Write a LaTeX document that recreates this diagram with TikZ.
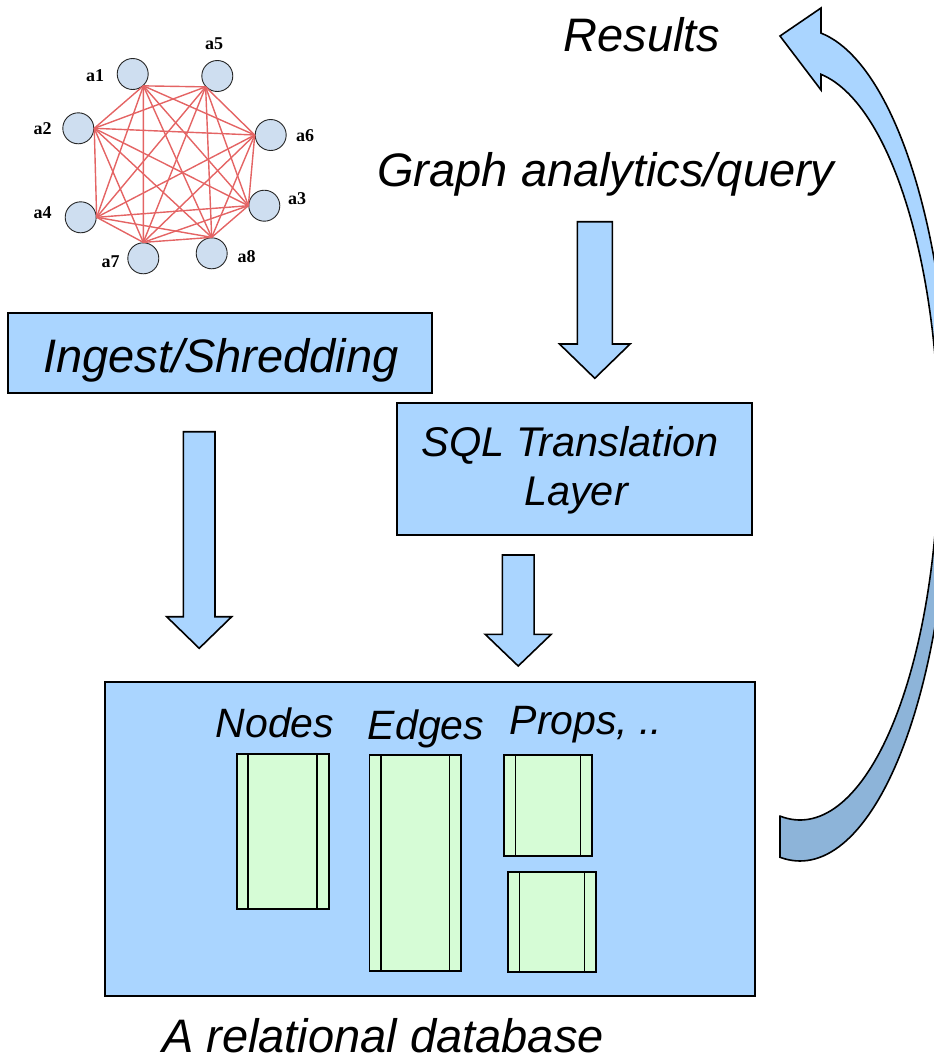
\documentclass[tikz,border=0pt]{standalone}
\usepackage{fontspec}
\setmainfont{Liberation Sans}
\newfontfamily\vertexfont{Liberation Serif}
\definecolor{boxblue}{RGB}{170,213,255}
\definecolor{tablegreen}{RGB}{214,252,214}
\definecolor{arrowshade}{RGB}{141,180,217}
\definecolor{vertexblue}{RGB}{206,222,240}
\definecolor{linkred}{RGB}{228,100,100}

% downward block arrow: centre x, top y, head-base y, tip y, half shaft, half head
\newcommand\blockdown[6]{%
  \draw[blockarrow] ({#1-#5},#2) -- ({#1+#5},#2) -- ({#1+#5},#3) -- ({#1+#6},#3)
    -- (#1,#4) -- ({#1-#6},#3) -- ({#1-#5},#3) -- cycle;}

\begin{document}
\begin{tikzpicture}[x=1pt,y=-1pt,
  box/.style={draw=black, line width=1.6pt, fill=boxblue, inner sep=0pt},
  blockarrow/.style={draw=black, line width=1.6pt, fill=boxblue, line join=miter},
  dbtable/.style={draw=black, line width=1.7pt, fill=tablegreen, inner sep=0pt,
    path picture={
      \draw[line width=1.6pt] ([xshift=11.5pt]path picture bounding box.north west)
        -- ([xshift=11.5pt]path picture bounding box.south west);
      \draw[line width=1.6pt] ([xshift=-11.5pt]path picture bounding box.north east)
        -- ([xshift=-11.5pt]path picture bounding box.south east);}},
  vertex/.style={circle, draw=black!85, line width=0.9pt, fill=vertexblue,
    minimum size=31pt, inner sep=0pt},
  vlabel/.style={font=\vertexfont\bfseries\fontsize{18}{20}\selectfont, inner sep=0pt},
  link/.style={draw=linkred, line width=1.4pt},
  caption/.style={font=\itshape\fontsize{47}{56}\selectfont, inner sep=0pt},
  smallcap/.style={font=\itshape\fontsize{41.5}{50}\selectfont, inner sep=0pt},
  tablecap/.style={font=\itshape\fontsize{41}{49}\selectfont, inner sep=0pt}]
\useasboundingbox (0,0) rectangle (934,1061);

% ---- the input graph ----
\node[vertex] (a1) at (132.7,74) {};
\node[vertex] (a5) at (217.3,76) {};
\node[vertex] (a2) at (78.3,128.3) {};
\node[vertex] (a6) at (270.7,135) {};
\node[vertex] (a3) at (264.3,205.7) {};
\node[vertex] (a4) at (80.7,217.3) {};
\node[vertex] (a7) at (143.3,258.3) {};
\node[vertex] (a8) at (211.7,253.3) {};
\foreach \u [count=\i] in {a1.-48,a5.223,a2.east,a6.west,a3.west,a4.east,a7.north,a8.north}{
  \foreach \v [count=\j] in {a1.-48,a5.223,a2.east,a6.west,a3.west,a4.east,a7.north,a8.north}{
    \ifnum\j>\i \draw[link] (\u) -- (\v); \fi}}
\node[vlabel] (la1) at (95,76) {a1};
\node[vlabel] (la5) at (214,44) {a5};
\node[vlabel] (la2) at (42.5,128.5) {a2};
\node[vlabel] (la6) at (305,136) {a6};
\node[vlabel] (la3) at (297,199) {a3};
\node[vlabel] (la4) at (42.5,213) {a4};
\node[vlabel] (la7) at (110.5,262) {a7};
\node[vlabel] (la8) at (246.5,256.5) {a8};

% ---- captions ----
\node[caption, anchor=base] (results) at (642,51) {Results};
\node[caption, anchor=base] (query) at (606,186) {Graph analytics/query};

% ---- boxes ----
\node[box, minimum width=424pt, minimum height=80pt] (ingest) at (220,353) {};
\node[caption, anchor=base] (ingesttext) at (221,372) {Ingest/Shredding};
\node[box, minimum width=355pt, minimum height=132pt] (sql) at (574.5,469) {};
\node[smallcap, anchor=base] (sqltext1) at (570,456.5) {SQL Translation};
\node[smallcap, anchor=base] (sqltext2) at (576,505) {Layer};
\node[box, minimum width=650pt, minimum height=314pt] (db) at (430,839) {};
\node[tablecap, anchor=base] (nodescap) at (275,737) {Nodes};
\node[tablecap, anchor=base] (edgescap) at (426,739) {Edges};
\node[tablecap, anchor=base] (propscap) at (586,734) {Props, ..};
\node[dbtable, minimum width=92pt, minimum height=154.4pt] (nodestable) at (282.7,831.5) {};
\node[dbtable, minimum width=91.7pt, minimum height=216pt] (edgestable) at (415.2,863) {};
\node[dbtable, minimum width=88pt, minimum height=100.7pt] (propstable1) at (548,805.3) {};
\node[dbtable, minimum width=88pt, minimum height=100pt] (propstable2) at (552,921.7) {};
\node[caption, anchor=base] (dbcap) at (383,1052) {A relational database};

% ---- block arrows ----
\blockdown{594.8}{221.7}{344}{378.3}{17.5}{35.3}
\blockdown{199.2}{431.7}{616.7}{648.3}{15.8}{32.5}
\blockdown{518.2}{555}{634.3}{666}{15.9}{33}

% ---- curved return arrow ----
\begin{scope}
\clip (0,0) rectangle (934,1061);
\fill[boxblue] (780,36) -- (821,8) -- (821,33.1)
  -- plot[domain=81.95:0, samples=60, variable=\t] ({800+150*cos(\t)},{445-416*sin(\t)})
  -- plot[domain=0:81.31, samples=60, variable=\t] ({800+139*cos(\t)},{445-375*sin(\t)})
  -- (821,90) -- cycle;
\fill[arrowshade] plot[domain=0:-97.66, samples=60, variable=\t] ({800+150*cos(\t)},{445-416*sin(\t)})
  -- (780,816.1)
  -- plot[domain=-98.27:0, samples=60, variable=\t] ({800+139*cos(\t)},{445-375*sin(\t)})
  -- cycle;
\draw[line width=1.6pt, line join=miter] (780,36) -- (821,8) -- (821,33.1)
  -- plot[domain=81.95:-97.66, samples=120, variable=\t] ({800+150*cos(\t)},{445-416*sin(\t)})
  -- (780,816.1)
  -- plot[domain=-98.27:81.31, samples=120, variable=\t] ({800+139*cos(\t)},{445-375*sin(\t)})
  -- (821,90) -- cycle;
\end{scope}
\end{tikzpicture}
\end{document}
